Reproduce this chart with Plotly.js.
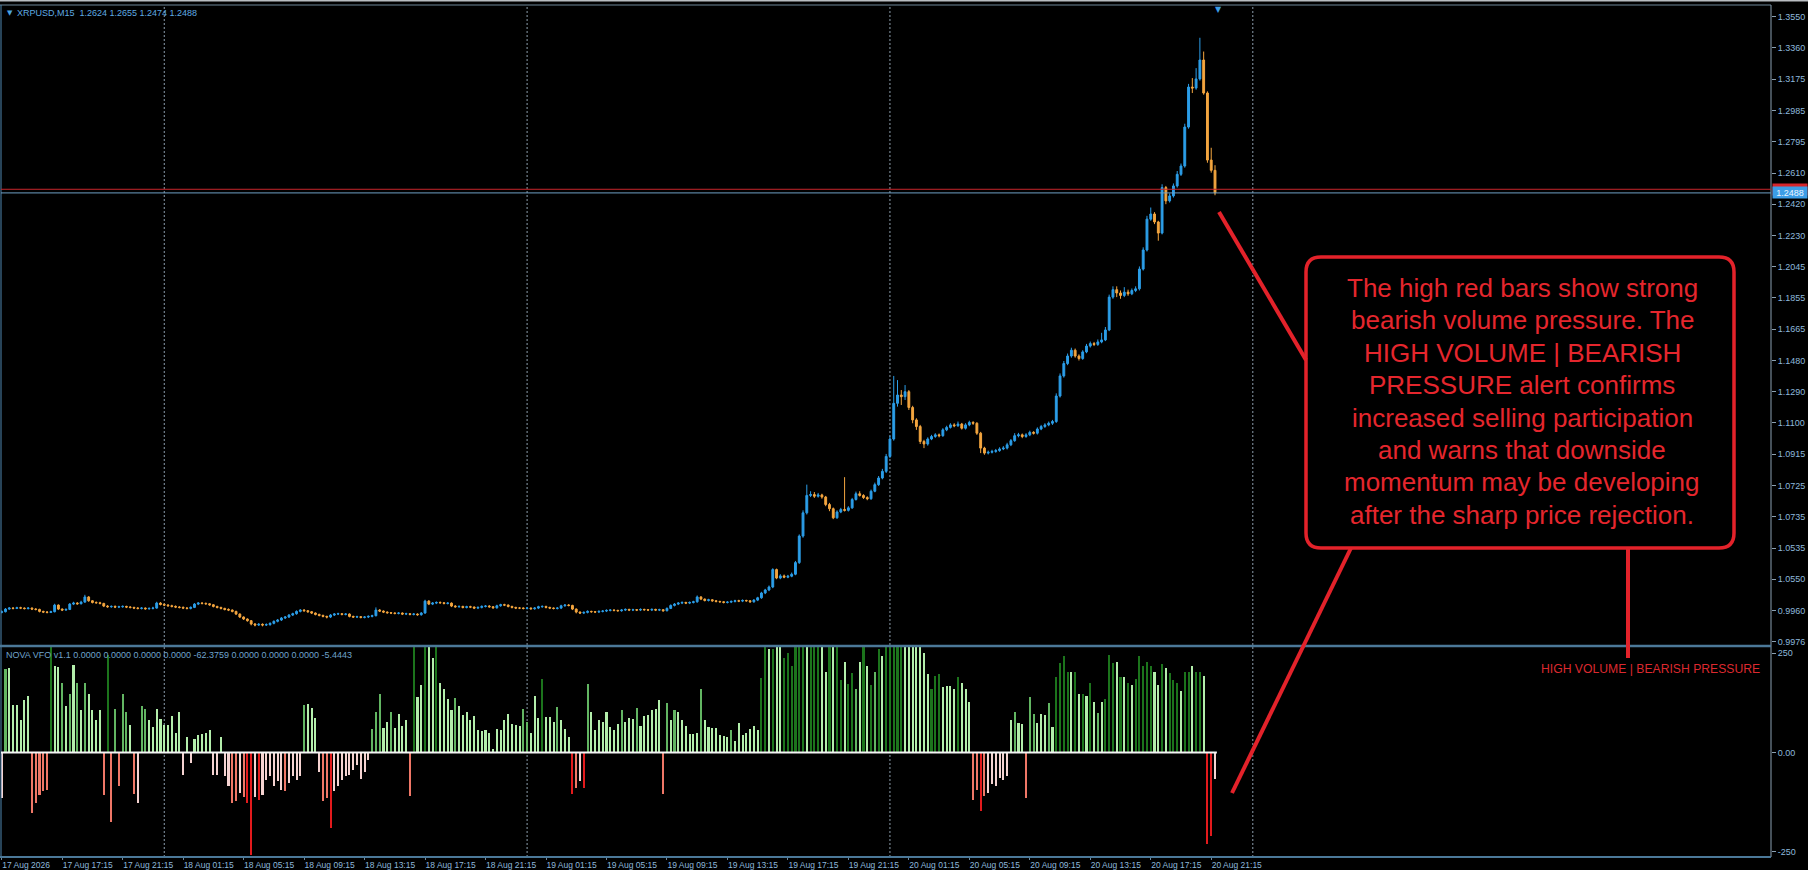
<!DOCTYPE html>
<html><head><meta charset="utf-8">
<script src="https://cdn.plot.ly/plotly-3.0.1.min.js"></script>
<style>html,body{margin:0;padding:0;background:#000;overflow:hidden}#chart{width:1808px;height:870px}</style>
</head><body><div id="chart"></div>
<script>
const symbol = 'XRPUSD,M15';
const startMinuteOfDay = 13 * 60 + 15; // first bar: 17 Aug 13:15
const barMinutes = 15;

const open = [0.9960,
0.9964,0.9980,0.9986,0.9984,0.9988,0.9986,0.9983,0.9986,0.9980,0.9978,
0.9966,0.9962,0.9960,0.9964,1.0004,0.9980,0.9974,0.9978,1.0010,1.0016,
1.0012,1.0022,1.0053,1.0030,1.0020,1.0018,1.0014,0.9998,0.9994,0.9996,
0.9992,0.9994,0.9996,0.9992,0.9990,0.9986,0.9984,0.9986,0.9982,0.9984,
0.9986,1.0016,1.0008,1.0004,1.0000,0.9996,0.9992,0.9990,0.9986,0.9984,
0.9990,1.0010,1.0016,1.0014,1.0012,1.0006,0.9996,0.9990,0.9984,0.9978,
0.9974,0.9966,0.9950,0.9932,0.9920,0.9910,0.9890,0.9884,0.9888,0.9884,
0.9886,0.9894,0.9906,0.9914,0.9926,0.9932,0.9944,0.9952,0.9966,0.9974,
0.9970,0.9964,0.9956,0.9948,0.9942,0.9936,0.9932,0.9944,0.9950,0.9952,
0.9948,0.9950,0.9936,0.9932,0.9934,0.9930,0.9932,0.9936,0.9940,0.9974,
0.9968,0.9962,0.9958,0.9956,0.9954,0.9956,0.9950,0.9952,0.9948,0.9950,
0.9946,0.9956,1.0028,1.0010,1.0016,1.0020,1.0018,1.0014,1.0016,0.9998,
0.9994,0.9996,0.9990,0.9994,0.9992,0.9986,0.9990,0.9996,0.9998,0.9994,
0.9988,1.0000,1.0006,1.0004,0.9996,0.9990,0.9986,0.9986,0.9984,0.9986,
0.9982,0.9986,0.9994,0.9996,0.9990,0.9986,0.9984,0.9986,1.0000,1.0004,
1.0002,0.9980,0.9962,0.9956,0.9960,0.9966,0.9964,0.9962,0.9966,0.9968,
0.9972,0.9974,0.9972,0.9970,0.9974,0.9978,0.9974,0.9976,0.9974,0.9978,
0.9976,0.9974,0.9978,0.9974,0.9976,0.9970,0.9984,1.0002,1.0010,1.0016,
1.0020,1.0016,1.0020,1.0024,1.0053,1.0040,1.0032,1.0036,1.0030,1.0026,
1.0024,1.0020,1.0022,1.0026,1.0030,1.0028,1.0032,1.0030,1.0024,1.0034,
1.0048,1.0077,1.0095,1.0113,1.0218,1.0167,1.0180,1.0172,1.0178,1.0190,
1.0260,1.0420,1.0560,1.0665,1.0670,1.0660,1.0668,1.0655,1.0610,1.0585,
1.0530,1.0565,1.0580,1.0575,1.0590,1.0640,1.0675,1.0665,1.0652,1.0645,
1.0690,1.0730,1.0770,1.0810,1.0900,1.1005,1.1220,1.1270,1.1260,1.1290,
1.1195,1.1120,1.1080,1.0990,1.0975,1.1005,1.1020,1.1030,1.1025,1.1060,
1.1075,1.1090,1.1085,1.1095,1.1070,1.1090,1.1105,1.1100,1.1040,1.0950,
1.0920,1.0925,1.0930,1.0935,1.0945,1.0950,1.0970,1.0995,1.1025,1.1030,
1.1020,1.1030,1.1045,1.1040,1.1065,1.1080,1.1090,1.1100,1.1110,1.1264,
1.1385,1.1460,1.1505,1.1540,1.1505,1.1490,1.1530,1.1565,1.1580,1.1575,
1.1590,1.1602,1.1662,1.1860,1.1905,1.1885,1.1870,1.1890,1.1880,1.1900,
1.1910,1.2029,1.2144,1.2330,1.2361,1.2313,1.2246,1.2520,1.2440,1.2470,
1.2530,1.2600,1.2650,1.2885,1.3126,1.3120,1.3175,1.3289,1.3090,1.2686,
1.2624];

const high = [
0.9972,0.9986,0.9992,0.9992,0.9994,0.9994,0.9990,0.9992,0.9990,0.9986,
0.9982,0.9970,0.9968,0.9970,1.0012,1.0008,0.9984,0.9984,1.0016,1.0024,
1.0022,1.0030,1.0066,1.0058,1.0034,1.0026,1.0024,1.0018,1.0004,1.0002,
1.0002,1.0000,1.0002,1.0000,0.9998,0.9994,0.9992,0.9992,0.9990,0.9990,
0.9994,1.0024,1.0022,1.0014,1.0010,1.0006,1.0002,0.9998,0.9996,0.9992,
0.9996,1.0016,1.0022,1.0022,1.0020,1.0016,1.0010,1.0000,0.9994,0.9988,
0.9984,0.9978,0.9970,0.9954,0.9936,0.9924,0.9914,0.9896,0.9896,0.9894,
0.9894,0.9900,0.9912,0.9920,0.9932,0.9938,0.9950,0.9958,0.9972,0.9980,
0.9980,0.9974,0.9968,0.9960,0.9952,0.9946,0.9940,0.9950,0.9956,0.9958,
0.9956,0.9956,0.9954,0.9940,0.9940,0.9938,0.9938,0.9942,0.9946,0.9990,
0.9980,0.9972,0.9966,0.9962,0.9960,0.9962,0.9960,0.9958,0.9956,0.9956,
0.9954,0.9962,1.0036,1.0034,1.0022,1.0026,1.0026,1.0022,1.0022,1.0020,
1.0004,1.0002,1.0000,1.0000,1.0000,0.9996,0.9996,1.0002,1.0004,1.0004,
0.9998,1.0006,1.0012,1.0012,1.0008,1.0000,0.9994,0.9992,0.9990,0.9992,
0.9990,0.9992,1.0000,1.0002,1.0000,0.9994,0.9990,0.9992,1.0006,1.0010,
1.0010,1.0006,0.9984,0.9966,0.9966,0.9972,0.9970,0.9968,0.9972,0.9974,
0.9978,0.9980,0.9978,0.9976,0.9980,0.9984,0.9982,0.9982,0.9980,0.9984,
0.9982,0.9980,0.9984,0.9982,0.9982,0.9980,0.9990,1.0008,1.0016,1.0022,
1.0026,1.0024,1.0026,1.0030,1.0062,1.0058,1.0044,1.0042,1.0040,1.0034,
1.0030,1.0028,1.0028,1.0032,1.0036,1.0036,1.0038,1.0036,1.0034,1.0040,
1.0054,1.0084,1.0102,1.0122,1.0226,1.0224,1.0190,1.0188,1.0186,1.0200,
1.0270,1.0430,1.0575,1.0730,1.0690,1.0685,1.0680,1.0675,1.0662,1.0620,
1.0592,1.0575,1.0590,1.0775,1.0600,1.0650,1.0688,1.0690,1.0672,1.0660,
1.0700,1.0742,1.0782,1.0825,1.0915,1.1025,1.1385,1.1360,1.1300,1.1330,
1.1300,1.1205,1.1130,1.1090,1.1000,1.1015,1.1030,1.1040,1.1038,1.1070,
1.1085,1.1100,1.1100,1.1110,1.1102,1.1100,1.1115,1.1112,1.1106,1.1048,
1.0958,1.0935,1.0940,1.0945,1.0955,1.0962,1.0982,1.1005,1.1040,1.1042,
1.1038,1.1040,1.1055,1.1052,1.1075,1.1090,1.1100,1.1110,1.1120,1.1280,
1.1400,1.1475,1.1520,1.1555,1.1550,1.1515,1.1540,1.1578,1.1592,1.1590,
1.1605,1.1645,1.1680,1.1875,1.1925,1.1925,1.1900,1.1920,1.1905,1.1912,
1.1925,1.2045,1.2160,1.2350,1.2400,1.2372,1.2320,1.2540,1.2530,1.2485,
1.2545,1.2620,1.2665,1.2905,1.3145,1.3180,1.3240,1.3423,1.3340,1.3100,
1.2760,1.2655];

const low = [
0.9954,0.9960,0.9976,0.9978,0.9980,0.9980,0.9978,0.9978,0.9974,0.9972,
0.9960,0.9956,0.9954,0.9956,0.9960,0.9974,0.9968,0.9970,0.9974,1.0004,
1.0006,1.0008,1.0018,1.0024,1.0014,1.0012,1.0008,0.9992,0.9988,0.9988,
0.9986,0.9986,0.9988,0.9986,0.9984,0.9980,0.9978,0.9978,0.9976,0.9976,
0.9978,0.9982,1.0002,0.9998,0.9994,0.9990,0.9986,0.9984,0.9980,0.9978,
0.9978,0.9986,1.0004,1.0008,1.0006,1.0000,0.9990,0.9984,0.9978,0.9972,
0.9968,0.9960,0.9944,0.9926,0.9914,0.9904,0.9882,0.9876,0.9878,0.9876,
0.9878,0.9880,0.9888,0.9900,0.9908,0.9920,0.9926,0.9938,0.9946,0.9960,
0.9964,0.9958,0.9950,0.9942,0.9936,0.9930,0.9924,0.9926,0.9938,0.9944,
0.9942,0.9942,0.9930,0.9926,0.9926,0.9924,0.9924,0.9926,0.9930,0.9936,
0.9962,0.9956,0.9952,0.9950,0.9948,0.9948,0.9944,0.9944,0.9942,0.9942,
0.9940,0.9940,0.9952,1.0004,1.0004,1.0010,1.0012,1.0008,1.0008,0.9992,
0.9988,0.9988,0.9984,0.9984,0.9986,0.9980,0.9980,0.9984,0.9990,0.9988,
0.9982,0.9982,0.9994,0.9998,0.9990,0.9984,0.9980,0.9980,0.9978,0.9978,
0.9976,0.9976,0.9980,0.9988,0.9984,0.9980,0.9978,0.9978,0.9980,0.9994,
0.9996,0.9974,0.9954,0.9950,0.9950,0.9954,0.9958,0.9956,0.9956,0.9960,
0.9962,0.9966,0.9966,0.9964,0.9964,0.9968,0.9968,0.9968,0.9968,0.9968,
0.9970,0.9968,0.9968,0.9968,0.9968,0.9964,0.9966,0.9980,0.9996,1.0004,
1.0010,1.0010,1.0010,1.0014,1.0018,1.0034,1.0026,1.0026,1.0024,1.0020,
1.0018,1.0014,1.0014,1.0016,1.0020,1.0022,1.0022,1.0024,1.0018,1.0018,
1.0028,1.0042,1.0070,1.0088,1.0106,1.0160,1.0160,1.0166,1.0166,1.0172,
1.0184,1.0252,1.0410,1.0550,1.0655,1.0650,1.0652,1.0645,1.0600,1.0570,
1.0522,1.0524,1.0558,1.0568,1.0568,1.0584,1.0634,1.0658,1.0644,1.0636,
1.0638,1.0684,1.0722,1.0762,1.0800,1.0890,1.0995,1.1200,1.1210,1.1240,
1.1180,1.1100,1.1060,1.0975,1.0950,1.0965,1.0998,1.1012,1.1015,1.1018,
1.1052,1.1068,1.1076,1.1078,1.1062,1.1062,1.1082,1.1090,1.1030,1.0920,
1.0910,1.0912,1.0918,1.0922,1.0928,1.0938,1.0942,1.0962,1.0988,1.1015,
1.1010,1.1012,1.1022,1.1032,1.1032,1.1058,1.1072,1.1082,1.1090,1.1102,
1.1255,1.1375,1.1450,1.1495,1.1495,1.1478,1.1482,1.1522,1.1556,1.1565,
1.1566,1.1582,1.1595,1.1655,1.1850,1.1860,1.1850,1.1860,1.1868,1.1872,
1.1890,1.1900,1.2020,1.2135,1.2320,1.2300,1.2200,1.2238,1.2420,1.2430,
1.2460,1.2520,1.2590,1.2640,1.2875,1.3090,1.3110,1.3165,1.3080,1.2670,
1.2610,1.2474];

const close = [
0.9964,0.9980,0.9986,0.9984,0.9988,0.9986,0.9983,0.9986,0.9980,0.9978,
0.9966,0.9962,0.9960,0.9964,1.0004,0.9980,0.9974,0.9978,1.0010,1.0016,
1.0012,1.0022,1.0053,1.0030,1.0020,1.0018,1.0014,0.9998,0.9994,0.9996,
0.9992,0.9994,0.9996,0.9992,0.9990,0.9986,0.9984,0.9986,0.9982,0.9984,
0.9986,1.0016,1.0008,1.0004,1.0000,0.9996,0.9992,0.9990,0.9986,0.9984,
0.9990,1.0010,1.0016,1.0014,1.0012,1.0006,0.9996,0.9990,0.9984,0.9978,
0.9974,0.9966,0.9950,0.9932,0.9920,0.9910,0.9890,0.9884,0.9888,0.9884,
0.9886,0.9894,0.9906,0.9914,0.9926,0.9932,0.9944,0.9952,0.9966,0.9974,
0.9970,0.9964,0.9956,0.9948,0.9942,0.9936,0.9932,0.9944,0.9950,0.9952,
0.9948,0.9950,0.9936,0.9932,0.9934,0.9930,0.9932,0.9936,0.9940,0.9974,
0.9968,0.9962,0.9958,0.9956,0.9954,0.9956,0.9950,0.9952,0.9948,0.9950,
0.9946,0.9956,1.0028,1.0010,1.0016,1.0020,1.0018,1.0014,1.0016,0.9998,
0.9994,0.9996,0.9990,0.9994,0.9992,0.9986,0.9990,0.9996,0.9998,0.9994,
0.9988,1.0000,1.0006,1.0004,0.9996,0.9990,0.9986,0.9986,0.9984,0.9986,
0.9982,0.9986,0.9994,0.9996,0.9990,0.9986,0.9984,0.9986,1.0000,1.0004,
1.0002,0.9980,0.9962,0.9956,0.9960,0.9966,0.9964,0.9962,0.9966,0.9968,
0.9972,0.9974,0.9972,0.9970,0.9974,0.9978,0.9974,0.9976,0.9974,0.9978,
0.9976,0.9974,0.9978,0.9974,0.9976,0.9970,0.9984,1.0002,1.0010,1.0016,
1.0020,1.0016,1.0020,1.0024,1.0053,1.0040,1.0032,1.0036,1.0030,1.0026,
1.0024,1.0020,1.0022,1.0026,1.0030,1.0028,1.0032,1.0030,1.0024,1.0034,
1.0048,1.0077,1.0095,1.0113,1.0218,1.0167,1.0180,1.0172,1.0178,1.0190,
1.0260,1.0420,1.0560,1.0665,1.0670,1.0660,1.0668,1.0655,1.0610,1.0585,
1.0530,1.0565,1.0580,1.0575,1.0590,1.0640,1.0675,1.0665,1.0652,1.0645,
1.0690,1.0730,1.0770,1.0810,1.0900,1.1005,1.1220,1.1270,1.1260,1.1290,
1.1195,1.1120,1.1080,1.0990,1.0975,1.1005,1.1020,1.1030,1.1025,1.1060,
1.1075,1.1090,1.1085,1.1095,1.1070,1.1090,1.1105,1.1100,1.1040,1.0950,
1.0920,1.0925,1.0930,1.0935,1.0945,1.0950,1.0970,1.0995,1.1025,1.1030,
1.1020,1.1030,1.1045,1.1040,1.1065,1.1080,1.1090,1.1100,1.1110,1.1264,
1.1385,1.1460,1.1505,1.1540,1.1505,1.1490,1.1530,1.1565,1.1580,1.1575,
1.1590,1.1602,1.1662,1.1860,1.1905,1.1885,1.1870,1.1890,1.1880,1.1900,
1.1910,1.2029,1.2144,1.2330,1.2361,1.2313,1.2246,1.2520,1.2440,1.2470,
1.2530,1.2600,1.2650,1.2885,1.3126,1.3120,1.3175,1.3289,1.3090,1.2686,
1.2624,1.2488];

// NOVA VFO histogram value per bar
const vfo = [
-115,210,212,120,120,81,133,143,-152,-127,
-106,-98,-94,267,218,215,176,118,148,221,
176,106,175,148,108,82,106,-106,246,-174,
110,-85,148,101,70,-104,-127,116,109,82,
64,109,84,70,70,91,50,103,-56,39,
-27,35,45,47,49,57,-56,-56,40,-60,
-85,-127,-123,-102,-111,-127,-257,-111,-119,-106,
-68,-60,-85,-73,-94,-98,-77,-60,-68,-60,
120,123,112,87,-48,-123,-115,-190,-98,-85,
-68,-60,-56,-43,-31,-67,-48,-20,60,103,
148,61,78,101,61,97,67,81,-109,267,
139,170,267,267,238,267,175,160,134,108,
137,116,95,103,82,91,57,53,57,50,
10,59,57,82,97,72,70,67,109,76,
50,143,87,185,89,89,76,114,82,59,
39,-104,-89,-73,-89,172,103,57,82,76,
101,64,56,72,108,78,87,84,112,67,
91,95,106,109,133,-104,126,81,106,101,
82,67,46,46,50,160,81,64,61,61,
45,42,39,57,30,74,45,49,59,66,
57,187,267,260,260,267,267,238,250,218,
267,267,267,267,267,267,267,267,204,267,
267,267,183,229,173,200,160,227,265,217,
171,202,260,242,267,267,267,267,267,267,
267,267,267,267,250,198,160,193,198,166,
168,168,160,190,175,160,128,-119,-94,-148,
-109,-101,-79,-85,-64,-68,-60,81,103,74,
72,-115,139,97,74,97,95,124,64,190,
225,244,202,204,204,148,148,143,175,128,
99,128,134,246,225,227,191,191,175,171,
185,242,218,227,218,204,171,223,212,200,
183,175,154,204,204,218,202,202,193,-230,
-210,-67];

// VFO intensity level per bar: 1 weak, 2 moderate, 3 strong
const vfoLevel = [
1,2,1,1,1,1,1,1,2,2, 2,2,2,3,1,1,2,1,2,1, 2,1,2,1,1,1,1,2,3,2, 2,2,2,2,1,2,1,2,2,1,
1,1,1,1,1,1,1,1,1,1, 1,1,1,1,1,1,1,1,1,1, 1,2,2,1,2,3,3,1,3,1, 1,1,1,1,1,2,1,1,1,1,
2,1,1,1,1,2,2,3,1,1, 1,1,1,1,1,1,1,1,2,2, 2,1,1,2,1,1,1,1,2,3, 1,1,3,1,1,3,1,1,1,1,
2,1,1,1,1,1,1,1,1,1, 1,1,1,1,1,1,1,1,2,2, 1,1,1,3,1,1,1,2,1,1, 1,3,2,1,3,2,1,1,1,1,
1,1,1,1,2,1,1,1,2,1, 1,1,1,1,1,2,2,1,2,1, 1,1,1,1,1,2,1,1,1,1, 1,1,1,2,1,1,1,1,1,1,
1,3,3,1,3,1,1,3,3,3, 3,3,3,1,3,3,3,1,1,3, 1,3,3,1,3,3,2,1,3,1, 3,2,3,1,3,3,3,3,3,1,
1,1,1,1,1,1,3,3,3,1, 1,1,1,3,1,1,1,2,2,3, 2,1,1,1,1,1,1,1,2,1, 1,2,2,2,1,1,1,2,1,3,
3,3,3,1,3,1,3,1,3,1, 2,1,3,3,3,1,3,1,3,1, 3,3,3,3,3,1,1,3,1,3, 3,3,1,3,3,1,3,3,1,3,
3,1];

const timeTickLabels = ['17 Aug 2026','17 Aug 17:15','17 Aug 21:15','18 Aug 01:15','18 Aug 05:15',
'18 Aug 09:15','18 Aug 13:15','18 Aug 17:15','18 Aug 21:15','19 Aug 01:15','19 Aug 05:15',
'19 Aug 09:15','19 Aug 13:15','19 Aug 17:15','19 Aug 21:15','20 Aug 01:15','20 Aug 05:15',
'20 Aug 09:15','20 Aug 13:15','20 Aug 17:15','20 Aug 21:15'];
const barsPerTimeTick = 16;

const priceTickVals = [1.3550,1.3362,1.3173,1.2985,1.2797,1.2608,1.2420,1.2232,1.2043,1.1855,
1.1667,1.1478,1.1290,1.1102,1.0913,1.0725,1.0537,1.0348,1.0160,0.9972,0.9783];
const priceTickText = ['1.3550','1.3360','1.3175','1.2985','1.2795','1.2610','1.2420','1.2230','1.2045','1.1855',
'1.1665','1.1480','1.1290','1.1100','1.0915','1.0725','1.0735','1.0535','1.0550','0.9960','0.9976'];
const vfoTickVals = [250, 0, -250];
const vfoTickText = ['250', '0.00', '-250'];

const askPrice = 1.2510;
const indicatorHeader = 'NOVA VFO v1.1 0.0000 0.0000 0.0000 0.0000 -62.3759 0.0000 0.0000 0.0000 -5.4443';
const noteLines = ['The high red bars show strong','bearish volume pressure. The','HIGH VOLUME | BEARISH',
'PRESSURE alert confirms','increased selling participation','and warns that downside',
'momentum may be developing','after the sharp price rejection.'];
const alertText = 'HIGH VOLUME | BEARISH PRESSURE';

// ---------- drawing ----------
const W = 1808, H = 870;
const M = {l: 1, r: 37, t: 5, b: 13};
const PW = W - M.l - M.r, PH = H - M.t - M.b;
const px = x => (x - M.l) / PW;           // page pixel -> paper x
const py = y => (H - M.b - y) / PH;       // page pixel -> paper y

const n = close.length;
const idx = close.map((_, i) => i);
const xRange = [-0.19, 468.1];

const posCol = {1: '#b3eeab', 2: '#62b562', 3: '#1c741c'};
const negCol = {1: '#f5d3d1', 2: '#ef7767', 3: '#e21a1c'};
const barColors = vfo.map((v, i) => v >= 0 ? posCol[vfoLevel[i]] : negCol[vfoLevel[i]]);

const blue = '#2c9ee8', orange = '#f3a53f', red = '#e3222a';
const tickFont = {family: 'Liberation Sans, Arial, sans-serif', size: 9, color: '#8db8dc'};

const traces = [
  {type: 'candlestick', x: idx, open: open, high: high, low: low, close: close,
   xaxis: 'x', yaxis: 'y', whiskerwidth: 0, hoverinfo: 'skip', showlegend: false,
   increasing: {line: {color: blue, width: 1}, fillcolor: blue},
   decreasing: {line: {color: orange, width: 1}, fillcolor: orange}},
  {type: 'bar', x: idx, y: vfo, xaxis: 'x', yaxis: 'y2', width: 0.55,
   marker: {color: barColors, line: {width: 0}}, hoverinfo: 'skip', showlegend: false}
];

const shapes = [];
// day separators: every midnight up to the first one after the last bar
for (let k = 0; k <= xRange[1]; k++) {
  if ((startMinuteOfDay + k * barMinutes) % 1440 === 0) {
    shapes.push({type: 'line', xref: 'x', yref: 'paper', x0: k, x1: k, y0: 0, y1: 1,
      line: {color: '#8d9fae', width: 1, dash: '2px,2px'}, layer: 'below'});
    if (k >= n) break;
  }
}
const frame = '#6f8799', sep = '#4b7898';
shapes.push(
  {type: 'rect', xref: 'paper', yref: 'paper', x0: px(0), x1: px(1808), y0: py(0), y1: py(1.6), fillcolor: '#b9bdc2', line: {width: 0}},
  {type: 'line', xref: 'paper', yref: 'paper', x0: px(0), x1: 1, y0: 1, y1: 1, line: {color: frame, width: 1}},
  {type: 'line', xref: 'paper', yref: 'paper', x0: 0, x1: 0, y0: 0, y1: 1, line: {color: '#4f86b0', width: 1}},
  {type: 'line', xref: 'paper', yref: 'paper', x0: 1, x1: 1, y0: 0, y1: 1, line: {color: '#8aa0b2', width: 1}},
  {type: 'line', xref: 'paper', yref: 'paper', x0: px(0), x1: 1, y0: py(646), y1: py(646), line: {color: sep, width: 2.5}},
  {type: 'line', xref: 'paper', yref: 'paper', x0: px(0), x1: 1, y0: 0, y1: 0, line: {color: sep, width: 2}},
  {type: 'line', xref: 'x', yref: 'y2', x0: -0.5, x1: n - 0.5, y0: 0, y1: 0, line: {color: '#f4f4f4', width: 2}},
  {type: 'line', xref: 'paper', yref: 'y', x0: 0, x1: 1, y0: askPrice, y1: askPrice, line: {color: '#c9262c', width: 1}},
  {type: 'line', xref: 'paper', yref: 'y', x0: 0, x1: 1, y0: close[n - 1], y1: close[n - 1], line: {color: '#6f9fc4', width: 1}}
);
// callout box with rounded corners
(function () {
  const x0 = px(1306), x1 = px(1734), yT = py(257), yB = py(548);
  const rx = 15 / PW, ry = 15 / PH;
  const path = `M ${x0 + rx},${yT} L ${x1 - rx},${yT} Q ${x1},${yT} ${x1},${yT - ry} L ${x1},${yB + ry} ` +
    `Q ${x1},${yB} ${x1 - rx},${yB} L ${x0 + rx},${yB} Q ${x0},${yB} ${x0},${yB + ry} L ${x0},${yT - ry} Q ${x0},${yT} ${x0 + rx},${yT} Z`;
  shapes.push({type: 'path', xref: 'paper', yref: 'paper', path: path, fillcolor: '#000', line: {color: red, width: 3.5}, layer: 'above'});
  const seg = (a, b, c, d) => ({type: 'line', xref: 'paper', yref: 'paper', x0: px(a), y0: py(b), x1: px(c), y1: py(d),
    line: {color: red, width: 4}, layer: 'above'});
  shapes.push(seg(1219, 212, 1306, 360), seg(1351, 548, 1232, 793), seg(1628, 548, 1628, 658));
})();

const annotations = [
  {xref: 'paper', yref: 'paper', x: px(5), y: py(13), xanchor: 'left', yanchor: 'middle', showarrow: false,
   text: '\u25BC', font: {family: 'DejaVu Sans', size: 7, color: '#4aa3e0'}},
  {xref: 'paper', yref: 'paper', x: px(15), y: py(13), xanchor: 'left', yanchor: 'middle', showarrow: false,
   text: symbol + '\u00a0\u00a0' + [open[n - 1], high[n - 1], low[n - 1], close[n - 1]].map(v => v.toFixed(4)).join(' '),
   font: {family: 'Liberation Sans, Arial, sans-serif', size: 9, color: '#5faae2'}},
  {xref: 'paper', yref: 'paper', x: px(4), y: py(655), xanchor: 'left', yanchor: 'middle', showarrow: false,
   text: indicatorHeader, font: {family: 'Liberation Sans, Arial, sans-serif', size: 9, color: '#6fa3cc'}},
  {xref: 'x', yref: 'paper', x: n, y: 1, yshift: 2, xanchor: 'center', yanchor: 'top', showarrow: false,
   text: '\u25BC', font: {family: 'DejaVu Sans', size: 8, color: '#3c9de6'}},
  {xref: 'paper', yref: 'y', x: 1, xshift: 1, y: askPrice, xanchor: 'left', yanchor: 'middle', showarrow: false,
   text: askPrice.toFixed(4), bgcolor: '#d6262c', width: 34, height: 11, borderpad: 0,
   font: {family: 'Liberation Sans, Arial, sans-serif', size: 9, color: '#ffffff'}},
  {xref: 'paper', yref: 'y', x: 1, xshift: 1, y: close[n - 1], xanchor: 'left', yanchor: 'middle', showarrow: false,
   text: close[n - 1].toFixed(4), bgcolor: '#3c9de6', width: 34, height: 11, borderpad: 0,
   font: {family: 'Liberation Sans, Arial, sans-serif', size: 9, color: '#eaf5ff'}},
  {xref: 'paper', yref: 'paper', x: px(1650), y: py(669), xanchor: 'center', yanchor: 'middle', showarrow: false,
   text: alertText, font: {family: 'Liberation Sans, Arial, sans-serif', size: 12.2, color: '#dc292f'}}
];
noteLines.forEach((t, k) => annotations.push({xref: 'paper', yref: 'paper', x: px(1522), y: py(288 + k * 32.4),
  xanchor: 'center', yanchor: 'middle', showarrow: false, text: t,
  font: {family: 'Liberation Sans, Arial, sans-serif', size: 26, color: '#e5262d'}}));

const layout = {
  width: W, height: H, margin: M, paper_bgcolor: '#000', plot_bgcolor: '#000', showlegend: false,
  bargap: 0,
  xaxis: {domain: [0, 1], anchor: 'y2', range: xRange, showgrid: false, zeroline: false, showline: false,
    tickvals: timeTickLabels.map((_, k) => k * barsPerTimeTick), ticktext: timeTickLabels,
    tickangle: 0, ticks: 'outside', ticklen: 2, tickcolor: '#6f8799',
    tickfont: {family: 'Liberation Sans, Arial, sans-serif', size: 8.5, color: '#8db8dc'},
    ticklabelposition: 'outside right', ticklabelstandoff: 0,
    rangeslider: {visible: false}, fixedrange: true},
  yaxis: {domain: [py(645), 1], anchor: 'x', side: 'right', range: [0.97635, 1.36205],
    tickvals: priceTickVals, ticktext: priceTickText, ticks: 'outside', ticklen: 4, tickcolor: '#8aa0b2',
    tickfont: tickFont, showgrid: false, zeroline: false, showline: false, fixedrange: true},
  yaxis2: {domain: [0, py(647)], anchor: 'x', side: 'right', range: [-263.3, 265.9],
    tickvals: vfoTickVals, ticktext: vfoTickText, ticks: 'outside', ticklen: 4, tickcolor: '#8aa0b2',
    tickfont: tickFont, showgrid: false, zeroline: false, showline: false, fixedrange: true},
  shapes: shapes, annotations: annotations
};

Plotly.newPlot('chart', traces, layout, {staticPlot: true, displayModeBar: false});
</script>
</body></html>
